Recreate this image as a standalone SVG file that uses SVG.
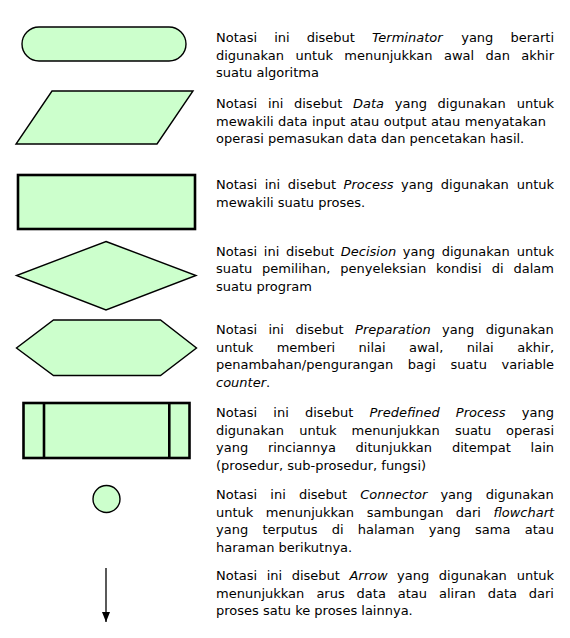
<svg xmlns="http://www.w3.org/2000/svg" width="570" height="638" viewBox="0 0 570 638">
<style>
.bg{fill:#ffffff}
.shape{fill:#ccffcc;stroke:#000;stroke-width:1.4;stroke-linejoin:miter}
.thick{fill:#ccffcc;stroke:#000;stroke-width:2.6}
.bar{stroke:#000;stroke-width:2.6;fill:none}
.desc{font-family:"DejaVu Sans",Verdana,Tahoma,sans-serif;font-size:13px;fill:#000}
.it{font-style:italic}
.line{stroke:#000;stroke-width:1.3;fill:none}
</style>
<defs>
<marker id="head" markerWidth="10" markerHeight="8" refX="10" refY="4" orient="auto" markerUnits="userSpaceOnUse" viewBox="0 0 10 8">
<path d="M0,0 L10,4 L0,8 Z" fill="#000"/>
</marker>
</defs>
<rect class="bg" x="0" y="0" width="570" height="638"/>

<g id="terminator">
<rect class="shape" x="22" y="27" width="164" height="34" rx="17" ry="17"/>
<text class="desc" y="42"><tspan x="216">Notasi</tspan><tspan x="274.2">ini</tspan><tspan x="306.7">disebut</tspan><tspan x="372" class="it">Terminator</tspan><tspan x="461.2">yang</tspan><tspan x="510.4">berarti</tspan></text>
<text class="desc" y="59.5"><tspan x="216">digunakan</tspan><tspan x="295.6">untuk</tspan><tspan x="344.3">menunjukkan</tspan><tspan x="444">awal</tspan><tspan x="485.5">dan</tspan><tspan x="521.3">akhir</tspan></text>
<text class="desc" x="216" y="77">suatu algoritma</text>
</g>

<g id="data">
<polygon class="shape" points="52,91 193,91 157,144 16,144"/>
<text class="desc" y="108"><tspan x="216">Notasi</tspan><tspan x="267.9">ini</tspan><tspan x="294">disebut</tspan><tspan x="353" class="it">Data</tspan><tspan x="394.8">yang</tspan><tspan x="437.6">digunakan</tspan><tspan x="516.7">untuk</tspan></text>
<text class="desc" y="125.5"><tspan x="216">mewakili</tspan><tspan x="278.1">data</tspan><tspan x="311.9">input</tspan><tspan x="349.9">atau</tspan><tspan x="383.7">output</tspan><tspan x="431">atau</tspan><tspan x="464.8">menyatakan</tspan></text>
<text class="desc" x="216" y="143">operasi pemasukan data dan pencetakan hasil.</text>
</g>

<g id="process">
<rect class="thick" x="18" y="175" width="177" height="54"/>
<text class="desc" y="189"><tspan x="216">Notasi</tspan><tspan x="264.7">ini</tspan><tspan x="287.8">disebut</tspan><tspan x="343.6" class="it">Process</tspan><tspan x="401">yang</tspan><tspan x="440.8">digunakan</tspan><tspan x="516.7">untuk</tspan></text>
<text class="desc" x="216" y="206.5">mewakili suatu proses.</text>
</g>

<g id="decision">
<polygon class="shape" points="106,241.5 196,275.5 106,310 16.5,275.5"/>
<text class="desc" y="255.5"><tspan x="216">Notasi</tspan><tspan x="263.8">ini</tspan><tspan x="285.9">disebut</tspan><tspan x="340.8" class="it">Decision</tspan><tspan x="402.8">yang</tspan><tspan x="441.7">digunakan</tspan><tspan x="516.7">untuk</tspan></text>
<text class="desc" y="273"><tspan x="216">suatu</tspan><tspan x="262.1">pemilihan,</tspan><tspan x="340.3">penyeleksian</tspan><tspan x="436">kondisi</tspan><tspan x="491.8">di</tspan><tspan x="513.5">dalam</tspan></text>
<text class="desc" x="216" y="290.5">suatu program</text>
</g>

<g id="preparation">
<polygon class="shape" points="53.5,320 160.5,320 196.5,348 160.5,375.5 53.5,375.5 16.5,348"/>
<text class="desc" y="334"><tspan x="216">Notasi</tspan><tspan x="268.5">ini</tspan><tspan x="295.4">disebut</tspan><tspan x="355.1" class="it">Preparation</tspan><tspan x="442.1">yang</tspan><tspan x="485.7">digunakan</tspan></text>
<text class="desc" y="351.5"><tspan x="216">untuk</tspan><tspan x="276.7">memberi</tspan><tspan x="358.6">nilai</tspan><tspan x="409">awal,</tspan><tspan x="466.7">nilai</tspan><tspan x="517.2">akhir,</tspan></text>
<text class="desc" y="369"><tspan x="216">penambahan/pengurangan</tspan><tspan x="407.8">bagi</tspan><tspan x="450.6">suatu</tspan><tspan x="501.6">variable</tspan></text>
<text class="desc" x="216" y="386.5"><tspan class="it">counter</tspan>.</text>
</g>

<g id="predefined-process">
<rect class="thick" x="23.5" y="403" width="166" height="55"/>
<line class="bar" x1="44" y1="403" x2="44" y2="458"/>
<line class="bar" x1="169.3" y1="403" x2="169.3" y2="458"/>
<text class="desc" y="417"><tspan x="216">Notasi</tspan><tspan x="273.3">ini</tspan><tspan x="305">disebut</tspan><tspan x="369.5" class="it">Predefined</tspan><tspan x="455.8" class="it">Process</tspan><tspan x="521.8">yang</tspan></text>
<text class="desc" y="434.5"><tspan x="216">digunakan</tspan><tspan x="299.2">untuk</tspan><tspan x="351.5">menunjukkan</tspan><tspan x="454.9">suatu</tspan><tspan x="506.1">operasi</tspan></text>
<text class="desc" y="452"><tspan x="216">yang</tspan><tspan x="267.9">rinciannya</tspan><tspan x="355.6">ditunjukkan</tspan><tspan x="451.9">ditempat</tspan><tspan x="530.6">lain</tspan></text>
<text class="desc" x="216" y="469.5">(prosedur, sub-prosedur, fungsi)</text>
</g>

<g id="connector">
<circle class="shape" cx="106.5" cy="499" r="13.5"/>
<text class="desc" y="499"><tspan x="216">Notasi</tspan><tspan x="270.3">ini</tspan><tspan x="298.9">disebut</tspan><tspan x="360.2" class="it">Connector</tspan><tspan x="440.4">yang</tspan><tspan x="485.7">digunakan</tspan></text>
<text class="desc" y="516.5"><tspan x="216">untuk</tspan><tspan x="265.8">menunjukkan</tspan><tspan x="366.8">sambungan</tspan><tspan x="455.8">dari</tspan><tspan x="493.4" class="it">flowchart</tspan></text>
<text class="desc" y="534"><tspan x="216">yang</tspan><tspan x="262.4">terputus</tspan><tspan x="331.7">di</tspan><tspan x="357.8">halaman</tspan><tspan x="428.7">yang</tspan><tspan x="475.1">sama</tspan><tspan x="524.7">atau</tspan></text>
<text class="desc" x="216" y="551.5">haraman berikutnya.</text>
</g>

<g id="arrow">
<text class="desc" y="580"><tspan x="216">Notasi</tspan><tspan x="266.7">ini</tspan><tspan x="291.7">disebut</tspan><tspan x="349.4" class="it">Arrow</tspan><tspan x="397.1">yang</tspan><tspan x="438.8">digunakan</tspan><tspan x="516.7">untuk</tspan></text>
<text class="desc" y="597.5"><tspan x="216">menunjukkan</tspan><tspan x="316.4">arus</tspan><tspan x="356.6">data</tspan><tspan x="397.8">atau</tspan><tspan x="439">aliran</tspan><tspan x="487.7">data</tspan><tspan x="528.8">dari</tspan></text>
<text class="desc" x="216" y="615">proses satu ke proses lainnya.</text>
</g>

<g id="connectors">
<line class="line" x1="106" y1="568" x2="106" y2="622" marker-end="url(#head)"/>
</g>
</svg>
